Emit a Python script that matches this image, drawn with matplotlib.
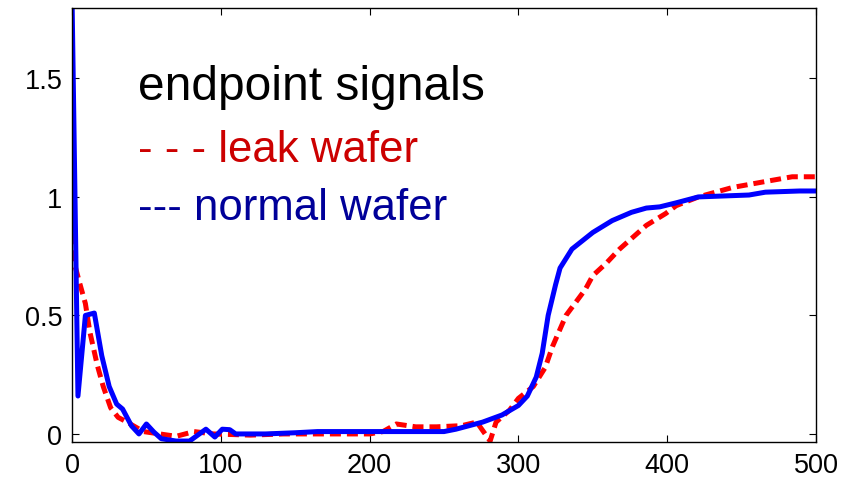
import matplotlib
matplotlib.use("Agg")
import matplotlib.pyplot as plt

plt.rcParams["font.family"] = ["Liberation Sans", "DejaVu Sans"]

### Data

blue_x = [0, 4, 9, 15, 20, 25, 30, 34, 40, 45, 50, 55, 60, 70, 79, 90, 96,
          101, 106, 110, 120, 130, 150, 165, 200, 250, 258, 276, 289, 300,
          306, 312, 316, 320, 325, 328, 336, 350, 363, 376, 386, 395, 406,
          421, 455, 466, 489, 500]
blue_y = [1.85, 0.16, 0.50, 0.51, 0.33, 0.20, 0.126, 0.105, 0.034, 0.0,
          0.042, 0.008, -0.02, -0.03, -0.03, 0.02, -0.013, 0.02, 0.018, 0.0,
          0.0, 0.0, 0.005, 0.01, 0.01, 0.01, 0.02, 0.05, 0.08, 0.12, 0.16,
          0.24, 0.34, 0.50, 0.63, 0.70, 0.78, 0.85, 0.90, 0.935, 0.953, 0.958,
          0.975, 1.0, 1.008, 1.02, 1.025, 1.025]

red_x = [0, 2, 5, 9, 12, 17, 21, 26, 31, 37, 48, 59, 70, 82, 95, 120, 142,
         175, 200, 209, 218, 231, 245, 262, 272, 281, 285, 294, 300, 310, 318,
         323, 332, 345, 350, 359, 368, 377, 386, 399, 406, 421, 444, 466, 484,
         500]
red_y = [0.99, 0.71, 0.64, 0.55, 0.43, 0.29, 0.20, 0.11, 0.07, 0.05, 0.01,
         0.0, -0.01, 0.01, 0.0, -0.005, 0.0, 0.0, 0.0, 0.01, 0.042, 0.03, 0.03,
         0.035, 0.05, -0.03, 0.05, 0.10, 0.15, 0.20, 0.28, 0.37, 0.50, 0.61,
         0.668, 0.72, 0.78, 0.83, 0.88, 0.93, 0.963, 1.0, 1.04, 1.065, 1.085,
         1.085]

x_ticks = [0, 100, 200, 300, 400, 500]
y_ticks = [0, 0.5, 1, 1.5]
y_tick_labels = ["0", "0.5", "1", "1.5"]

### Plot

fig = plt.figure(figsize=(8.51, 4.81), dpi=100)
ax = fig.add_axes([72 / 851, 1 - 443 / 481, 744 / 851, 434 / 481])

ax.plot(red_x, red_y, color="#ff0000", lw=3.6, dashes=(2.2, 1.2))
ax.plot(blue_x, blue_y, color="#0000ff", lw=3.6)

ax.set_xlim(0, 500)
ax.set_ylim(-0.034, 1.797)
ax.set_xticks(x_ticks)
ax.set_yticks(y_ticks)
ax.set_yticklabels(y_tick_labels)
ax.tick_params(direction="in", length=5, width=0.8, top=True, right=True,
               labelsize=19.5)
ax.tick_params(axis="x", pad=7)
ax.tick_params(axis="y", pad=7)
for s in ax.spines.values():
    s.set_linewidth(1.0)

# legend-like labels drawn as text
fig.text(138 / 851, 1 - 100 / 481, "endpoint signals", fontsize=34.5,
         color="black", va="baseline")
fig.text(138 / 851, 1 - 162 / 481, "- - - leak wafer", fontsize=31.5,
         color="#cc0000", va="baseline")
fig.text(138 / 851, 1 - 220 / 481, "--- normal wafer", fontsize=31.5,
         color="#000099", va="baseline")

fig.savefig("out.png", dpi=100)
